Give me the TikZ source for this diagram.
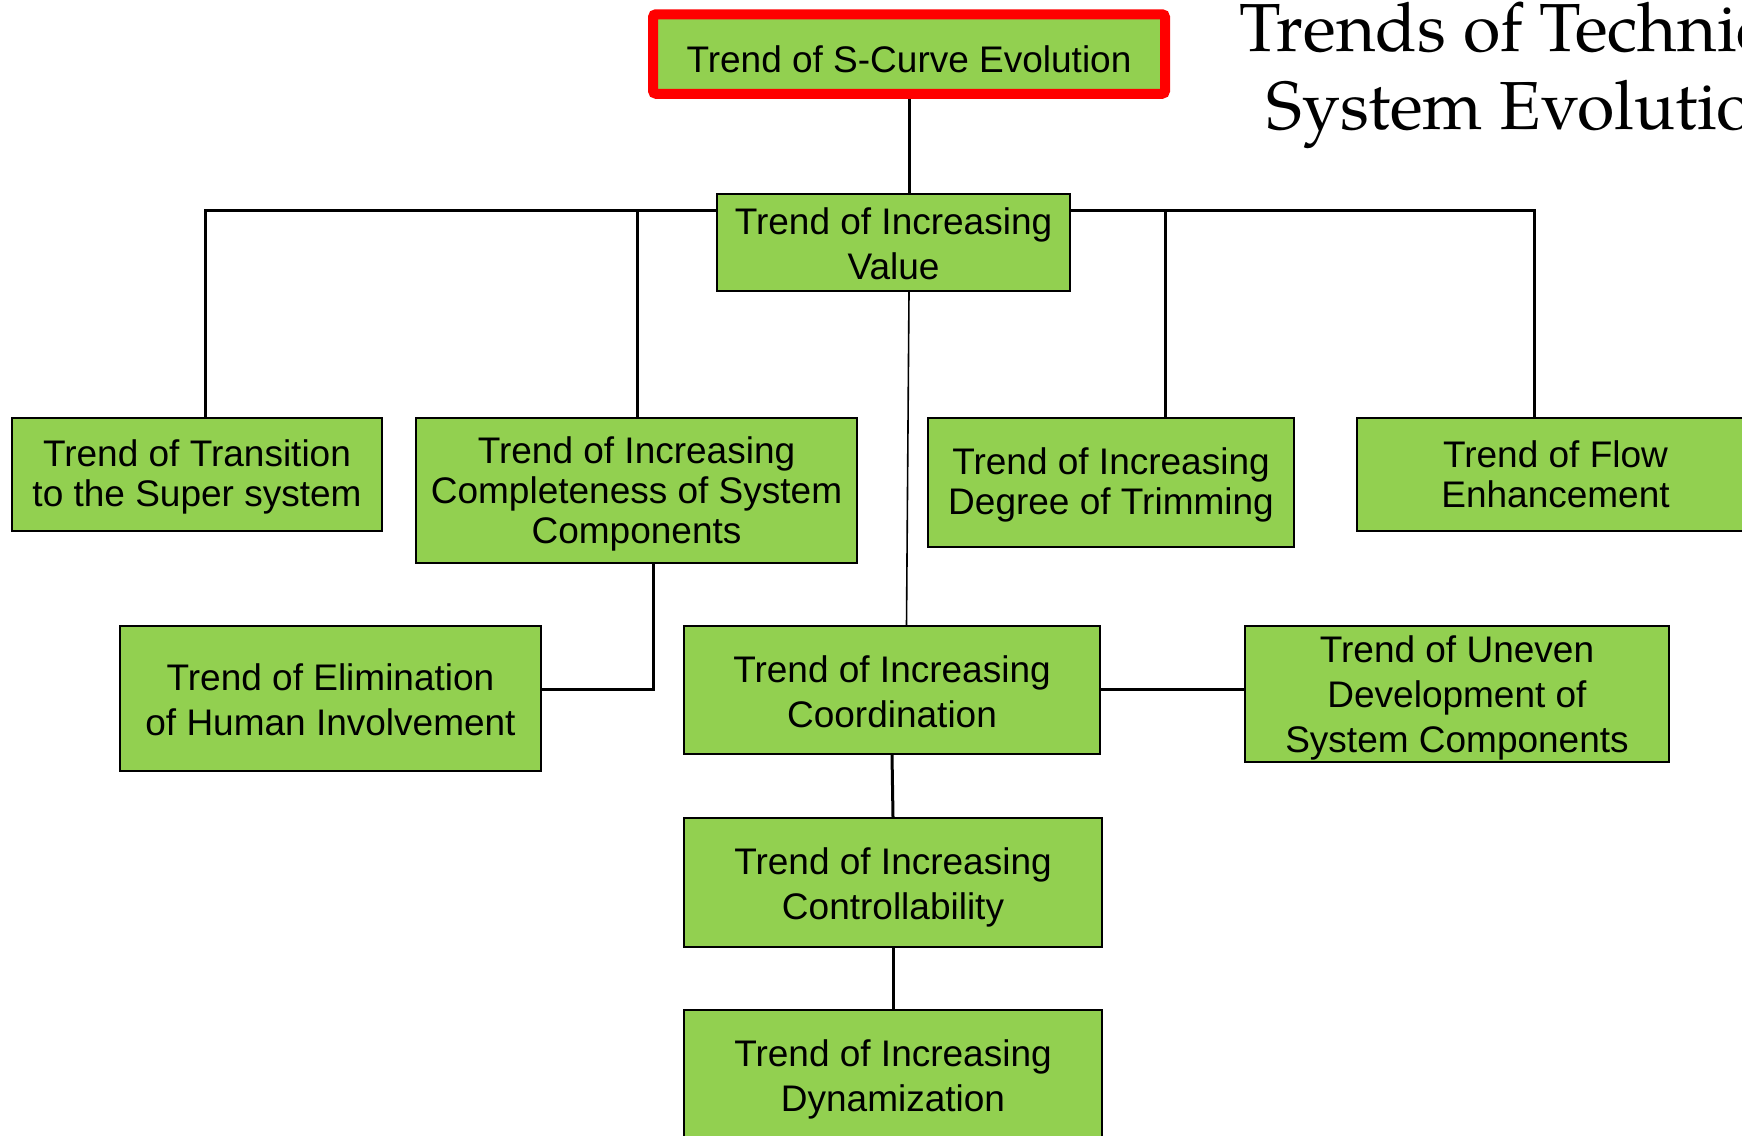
\documentclass[tikz,border=0pt]{standalone}
\usepackage{fontspec}
\setmainfont{Liberation Sans}
\newfontfamily\titlefont{texgyrepagella-regular.otf}
\usetikzlibrary{calc}
\definecolor{boxgreen}{HTML}{92D050}
\begin{document}
\begin{tikzpicture}[x=1pt,y=-1pt,
  trend/.style={draw=black, line width=2pt, fill=boxgreen, align=center,
    font=\fontsize{37}{45}\selectfont, inner sep=0pt},
  tightlines/.style={font=\fontsize{37}{40}\selectfont},
  conn/.style={line width=3pt, draw=black},
  thinconn/.style={line width=1.6pt, draw=black}]
\clip (0,0) rectangle (1742,1135);
\fill[white] (0,0) rectangle (1742,1135);

% title
\node[font=\titlefont\fontsize{68}{78}\selectfont, align=center, inner sep=0pt] (title) at (1530,75) {Trends of Technical\\System Evolution};

% nodes
\node[trend, draw=red, line width=10pt, rounded corners=3pt, minimum width=512pt, minimum height=79.5pt, text height=36pt, text depth=0pt] (top) at (909,54) {Trend of S-Curve Evolution};
\node[trend, minimum width=353pt, minimum height=97pt] (value) at (893.5,242.5) {\rule{0pt}{30pt}Trend of Increasing\\Value};
\node[trend, tightlines, minimum width=370pt, minimum height=113pt] (transition) at (197,474.5) {\rule{0pt}{31pt}Trend of Transition\\to the Super system};
\node[trend, tightlines, minimum width=441pt, minimum height=145pt] (completeness) at (636.5,490.5) {\rule{0pt}{33pt}Trend of Increasing\\Completeness of System\\Components};
\node[trend, tightlines, minimum width=366pt, minimum height=129pt] (trimming) at (1111,482.5) {\rule{0pt}{31pt}Trend of Increasing\\Degree of Trimming};
\node[trend, tightlines, minimum width=398pt, minimum height=113pt] (flow) at (1555.5,474.5) {Trend of Flow\\Enhancement};
\node[trend, minimum width=421pt, minimum height=145pt] (elimination) at (330.5,698.5) {\rule{0pt}{29pt}Trend of Elimination\\of Human Involvement};
\node[trend, minimum width=416pt, minimum height=128pt] (coordination) at (892,690) {\rule{0pt}{31pt}Trend of Increasing\\Coordination};
\node[trend, minimum width=424pt, minimum height=136pt] (uneven) at (1457,694) {\rule{0pt}{35pt}Trend of Uneven\\Development of\\System Components};
\node[trend, minimum width=418pt, minimum height=129pt] (controllability) at (893,882.5) {\rule{0pt}{37pt}Trend of Increasing\\Controllability};
\node[trend, minimum width=418pt, minimum height=129pt] (dynamization) at (893,1074.5) {\rule{0pt}{37pt}Trend of Increasing\\Dynamization};

% helper coordinates
\coordinate (bar) at (0,210);
\coordinate (xa) at (205,0);
\coordinate (xb) at (637,0);
\coordinate (xc) at (1165,0);
\coordinate (xd) at (1534,0);
\coordinate (xe) at (653,0);
\coordinate (xf) at (909,0);
\coordinate (xg) at (906.5,0);
\coordinate (ly) at (0,689);

% connectors
\draw[conn] (top.south) -- (top.south |- value.north);
\draw[conn] (value.west |- bar) -| (xa |- transition.north);
\draw[conn] (xb |- bar) -- (xb |- completeness.north);
\draw[conn] (value.east |- bar) -| (xd |- flow.north);
\draw[conn] (xc |- bar) -- (xc |- trimming.north);
\draw[thinconn] (xf |- value.south) -- (xg |- coordination.north);
\draw[conn] (xe |- completeness.south) |- (elimination.east |- ly);
\draw[conn] (coordination.east |- ly) -- (uneven.west |- ly);
\draw[conn] (coordination.south) -- (controllability.north);
\draw[conn] (controllability.south) -- (dynamization.north);
\end{tikzpicture}
\end{document}
